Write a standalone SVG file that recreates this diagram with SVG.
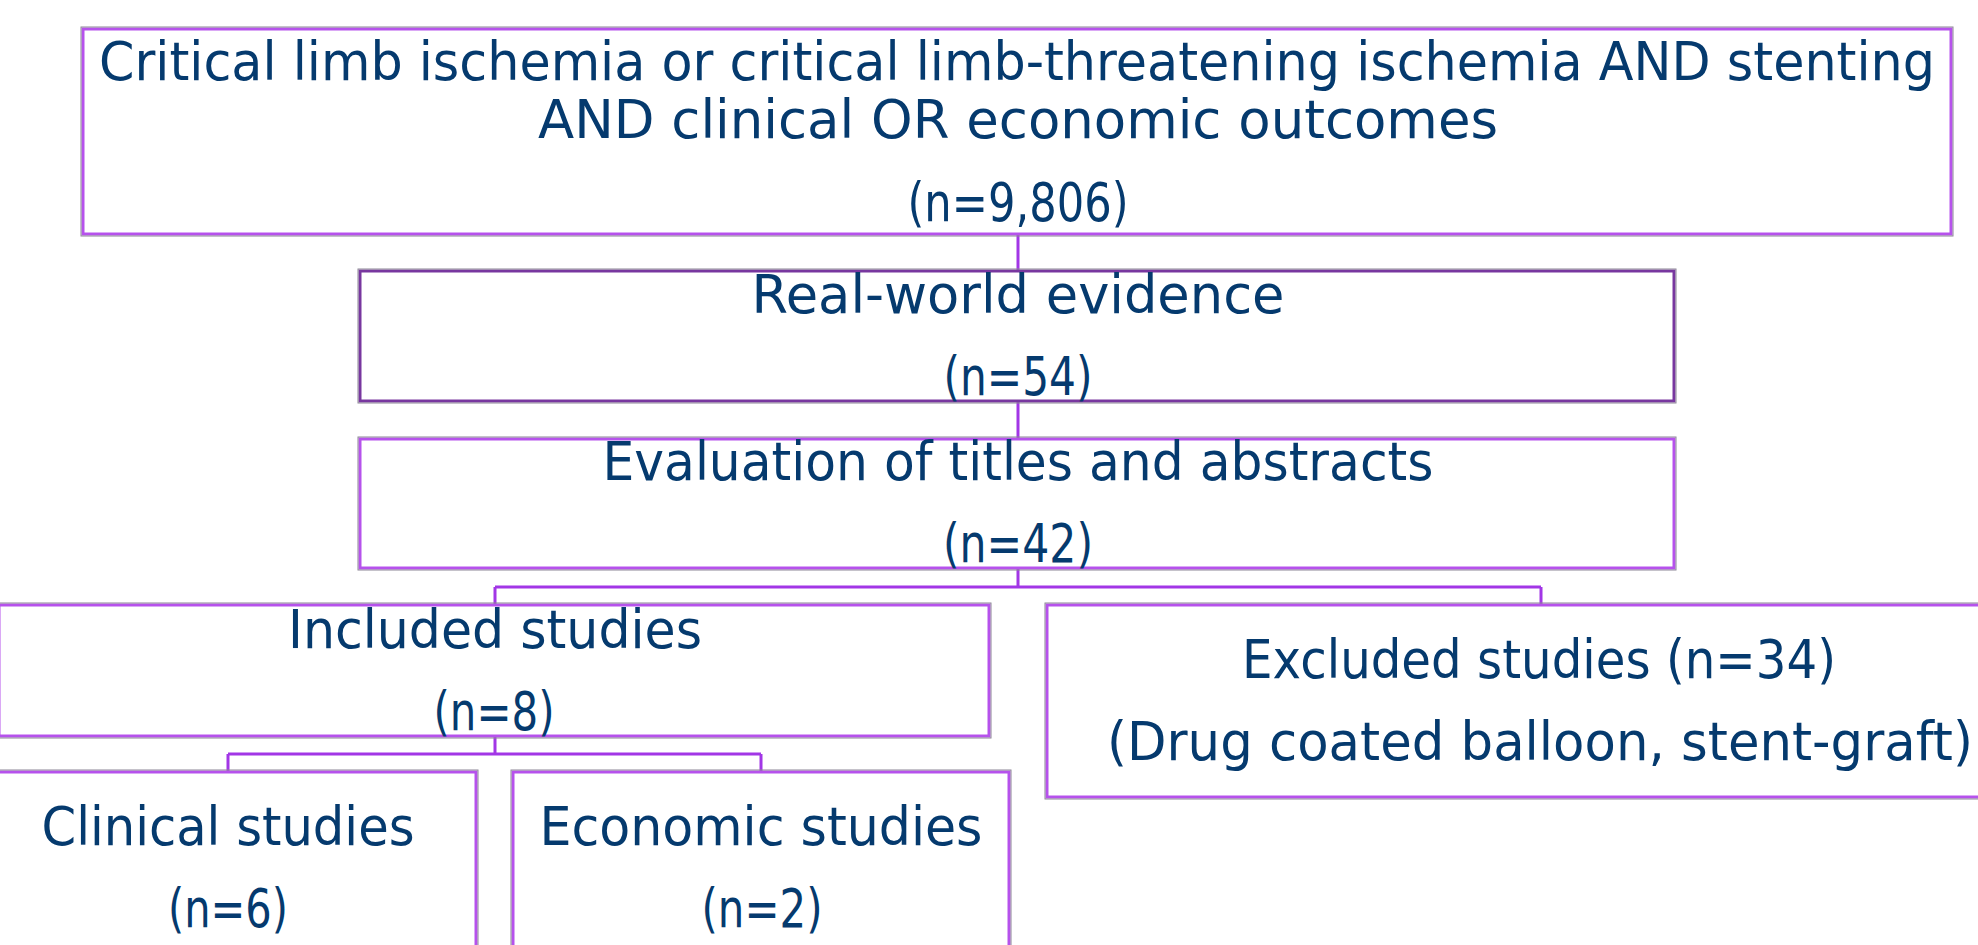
<svg xmlns="http://www.w3.org/2000/svg" width="1978" height="945" viewBox="0 0 1978 945">
  <style>
    .bg { fill: #ffffff; }
    .box { fill: #ffffff; stroke: #b652ec; stroke-width: 3; }
    .box-dark { fill: #ffffff; stroke: #78379f; stroke-width: 3; }
    .rim { fill: none; stroke: #8c8596; stroke-width: 1; }
    .link { fill: none; stroke: #a236e6; stroke-width: 3; }
    .label { font-family: "DejaVu Sans", "Noto Sans", sans-serif; font-size: 54px; fill: #053a6e; text-anchor: middle; }
  </style>
  <rect class="bg" x="0" y="0" width="1978" height="945"/>

  <!-- connectors -->
  <g id="connectors">
    <path class="link" d="M1018 235 V270"/>
    <path class="link" d="M1018 402 V438"/>
    <path class="link" d="M1018 569 V587 M495 587 H1541 M495 587 V604 M1541 587 V604"/>
    <path class="link" d="M495 737 V754 M228 754 H761 M228 754 V771 M761 754 V771"/>
  </g>

  <g id="search">
    <rect class="box" x="83" y="29" width="1868" height="205"/>
    <rect class="rim" x="81" y="27" width="1872" height="209"/>
    <text class="label" x="1017" y="80" textLength="1836" lengthAdjust="spacingAndGlyphs">Critical limb ischemia or critical limb-threatening ischemia AND stenting</text>
    <text class="label" x="1018" y="138" textLength="960" lengthAdjust="spacingAndGlyphs">AND clinical OR economic outcomes</text>
    <text class="label" x="1018" y="221" textLength="221" lengthAdjust="spacingAndGlyphs">(n=9,806)</text>
  </g>

  <g id="real-world">
    <rect class="box-dark" x="360" y="271" width="1314" height="130"/>
    <rect class="rim" x="358" y="269" width="1318" height="134"/>
    <text class="label" x="1018" y="313" textLength="533" lengthAdjust="spacingAndGlyphs">Real-world evidence</text>
    <text class="label" x="1018" y="395" textLength="149" lengthAdjust="spacingAndGlyphs">(n=54)</text>
  </g>

  <g id="screening">
    <rect class="box" x="360" y="439" width="1314" height="129"/>
    <rect class="rim" x="358" y="437" width="1318" height="133"/>
    <text class="label" x="1018" y="480" textLength="831" lengthAdjust="spacingAndGlyphs">Evaluation of titles and abstracts</text>
    <text class="label" x="1018" y="562" textLength="150" lengthAdjust="spacingAndGlyphs">(n=42)</text>
  </g>

  <g id="included">
    <rect class="box" x="-1" y="605" width="990" height="131"/>
    <rect class="rim" x="-3" y="603" width="994" height="135"/>
    <text class="label" x="495" y="648" textLength="414" lengthAdjust="spacingAndGlyphs">Included studies</text>
    <text class="label" x="494" y="730" textLength="121" lengthAdjust="spacingAndGlyphs">(n=8)</text>
  </g>

  <g id="excluded">
    <rect class="box" x="1047" y="605" width="990" height="192"/>
    <rect class="rim" x="1045" y="603" width="994" height="196"/>
    <text class="label" x="1539" y="678" textLength="594" lengthAdjust="spacingAndGlyphs">Excluded studies (n=34)</text>
    <text class="label" x="1540" y="760" textLength="866" lengthAdjust="spacingAndGlyphs">(Drug coated balloon, stent-graft)</text>
  </g>

  <g id="clinical">
    <rect class="box" x="-20" y="772" width="496" height="200"/>
    <rect class="rim" x="-22" y="770" width="500" height="204"/>
    <text class="label" x="228" y="845" textLength="373" lengthAdjust="spacingAndGlyphs">Clinical studies</text>
    <text class="label" x="228" y="927" textLength="120" lengthAdjust="spacingAndGlyphs">(n=6)</text>
  </g>

  <g id="economic">
    <rect class="box" x="513" y="772" width="496" height="200"/>
    <rect class="rim" x="511" y="770" width="500" height="204"/>
    <text class="label" x="761" y="845" textLength="443" lengthAdjust="spacingAndGlyphs">Economic studies</text>
    <text class="label" x="762" y="927" textLength="121" lengthAdjust="spacingAndGlyphs">(n=2)</text>
  </g>
</svg>
